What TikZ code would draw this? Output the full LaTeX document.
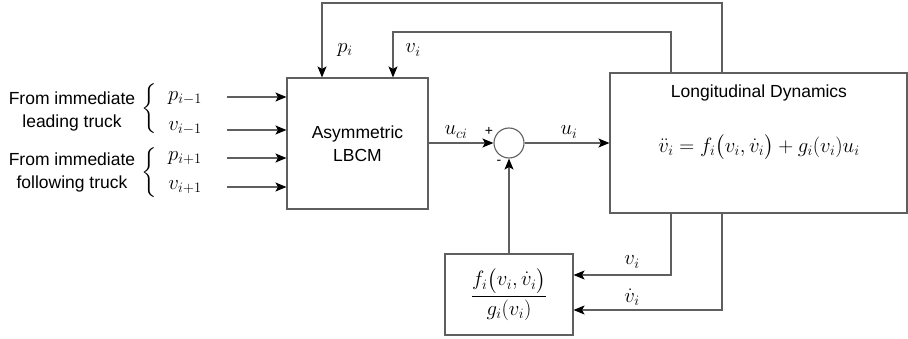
\documentclass[tikz,border=0pt]{standalone}
\usepackage{amsmath}
\usepackage{fontspec}
\setmainfont{Liberation Sans}
\usetikzlibrary{arrows.meta}
\definecolor{ln}{RGB}{95,95,95}
\begin{document}
\begin{tikzpicture}[x=1pt,y=-1pt,
  txt/.style={font=\fontsize{17.5}{23}\selectfont, inner sep=0pt},
  mth/.style={font=\fontsize{22}{26}\selectfont, inner sep=0pt},
  sgn/.style={font=\fontsize{14}{16}\selectfont, inner sep=0pt},
  blk/.style={draw=ln, line width=1.1pt, fill=white, inner sep=0pt},
  arr/.style={draw=ln, line width=1.1pt, -{Stealth[length=11pt,width=9pt,inset=2.5pt,color=black]}}
]
\useasboundingbox (0,0) rectangle (908,339);

% blocks
\node[blk, txt, minimum width=141pt, minimum height=131pt, align=center] (lbcm) at (357.5,143.5) {Asymmetric\\[0pt]LBCM};
\node[blk, circle, minimum size=30pt] (sum) at (509,143) {};
\node[blk, minimum width=297pt, minimum height=140pt] (dyn) at (758.5,143) {};
\node[txt] (dyntitle) at (759,93) {Longitudinal Dynamics};
\node[mth] (dyneq) at (759,147) {$\ddot{v}_i = f_i\bigl(v_i,\dot{v}_i\bigr) + g_i(v_i)u_i$};
\node[blk, mth, minimum width=128pt, minimum height=81pt] (fg) at (509,294.5) {$\dfrac{f_i\bigl(v_i,\dot{v}_i\bigr)}{g_i(v_i)}$};

% left inputs
\node[txt, align=center] (lead) at (72,111) {From immediate\\[0pt]leading truck};
\node[txt, align=center] (foll) at (72,172.5) {From immediate\\[0pt]following truck};
\node[mth] (br1) at (150,109) {$\left\{\rule[-20pt]{0pt}{44pt}\right.$};
\node[mth] (br2) at (150,173) {$\left\{\rule[-20pt]{0pt}{44pt}\right.$};
\node[mth] (lp1) at (185,98) {$p_{i-1}$};
\node[mth] (lv1) at (185,128) {$v_{i-1}$};
\node[mth] (lp2) at (185,158) {$p_{i+1}$};
\node[mth] (lv2) at (185,187) {$v_{i+1}$};
\coordinate (in1) at (227,97);
\coordinate (in2) at (227,130);
\coordinate (in3) at (227,158);
\coordinate (in4) at (227,187);
\draw[arr] (in1) -- (in1 -| lbcm.west);
\draw[arr] (in2) -- (in2 -| lbcm.west);
\draw[arr] (in3) -- (in3 -| lbcm.west);
\draw[arr] (in4) -- (in4 -| lbcm.west);

% forward path
\draw[arr] (lbcm.east |- sum.west) -- (sum.west);
\draw[arr] (sum.east) -- (dyn.west |- sum.east);
\draw[arr] (fg.north) -- (sum.south);
\node[mth] (uci) at (456,132) {$u_{ci}$};
\node[mth] (ui) at (569,132) {$u_i$};
\node[sgn] (plus) at (489,131) {+};
\node[sgn] (minus) at (499,162) {-};

% feedback to LBCM
\coordinate (fbP) at (722,3);
\coordinate (fbV) at (671,32);
\coordinate (pinx) at (322,0);
\coordinate (vinx) at (393,0);
\draw[arr] (dyn.north -| fbP) -- (fbP) -| (lbcm.north -| pinx);
\draw[arr] (dyn.north -| fbV) -- (fbV) -| (lbcm.north -| vinx);
\node[mth] (pi) at (345,50) {$p_i$};
\node[mth] (vi) at (413,50) {$v_i$};

% feedback to f/g block
\coordinate (bv) at (671,275);
\coordinate (bdv) at (722,310);
\draw[arr] (dyn.south -| bv) |- (fg.east |- bv);
\draw[arr] (dyn.south -| bdv) |- (fg.east |- bdv);
\node[mth] (bvl) at (632,262) {$v_i$};
\node[mth] (bdvl) at (632,297) {$\dot{v}_i$};
\end{tikzpicture}
\end{document}
